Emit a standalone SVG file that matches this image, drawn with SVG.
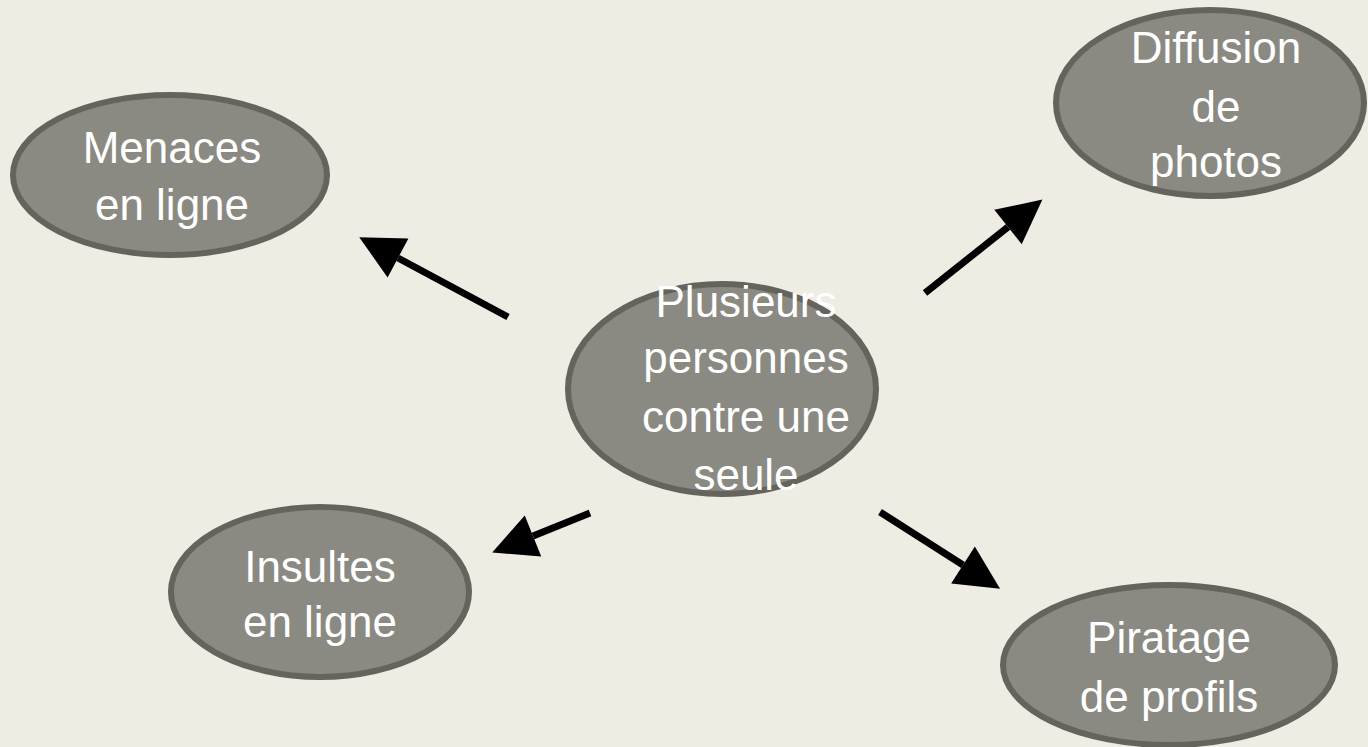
<svg xmlns="http://www.w3.org/2000/svg" width="1368" height="747" viewBox="0 0 1368 747">
<style>
.node ellipse{fill:#8a8a83;stroke:#64645d;stroke-width:6}
.node text{font-family:"Liberation Sans",Arial,sans-serif;font-size:44px;fill:#ffffff;text-anchor:middle}
.conn line{stroke:#000;stroke-width:7;fill:none}
</style>
<defs>
<marker id="ah" markerUnits="userSpaceOnUse" markerWidth="46" markerHeight="46" refX="0" refY="22" orient="auto" overflow="visible">
<path d="M0,0 L44,22 L0,44 Z" fill="#000"/>
</marker>
</defs>
<rect width="1368" height="747" fill="#efece4"/>
<g id="connectors" class="conn">
<line x1="508" y1="317" x2="398" y2="258" marker-end="url(#ah)"/>
<line x1="925" y1="293" x2="1008" y2="227" marker-end="url(#ah)"/>
<line x1="590" y1="513" x2="533" y2="536" marker-end="url(#ah)"/>
<line x1="880" y1="512" x2="963" y2="565" marker-end="url(#ah)"/>
</g>
<g id="menaces" class="node">
<ellipse cx="170" cy="175" rx="157" ry="80"/>
<text x="172" y="163">Menaces</text>
<text x="172" y="220">en ligne</text>
</g>
<g id="diffusion" class="node">
<ellipse cx="1210" cy="103" rx="154" ry="93"/>
<text x="1216" y="63">Diffusion</text>
<text x="1216" y="122">de</text>
<text x="1216" y="177">photos</text>
</g>
<g id="centre" class="node">
<ellipse cx="722" cy="389" rx="154" ry="105"/>
<text x="746" y="317">Plusieurs</text>
<text x="746" y="373">personnes</text>
<text x="746" y="432">contre une</text>
<text x="746" y="490">seule</text>
</g>
<g id="insultes" class="node">
<ellipse cx="320" cy="592" rx="149" ry="85"/>
<text x="320" y="582">Insultes</text>
<text x="320" y="637">en ligne</text>
</g>
<g id="piratage" class="node">
<ellipse cx="1169" cy="665" rx="166" ry="80"/>
<text x="1169" y="653">Piratage</text>
<text x="1169" y="712">de profils</text>
</g>
</svg>
